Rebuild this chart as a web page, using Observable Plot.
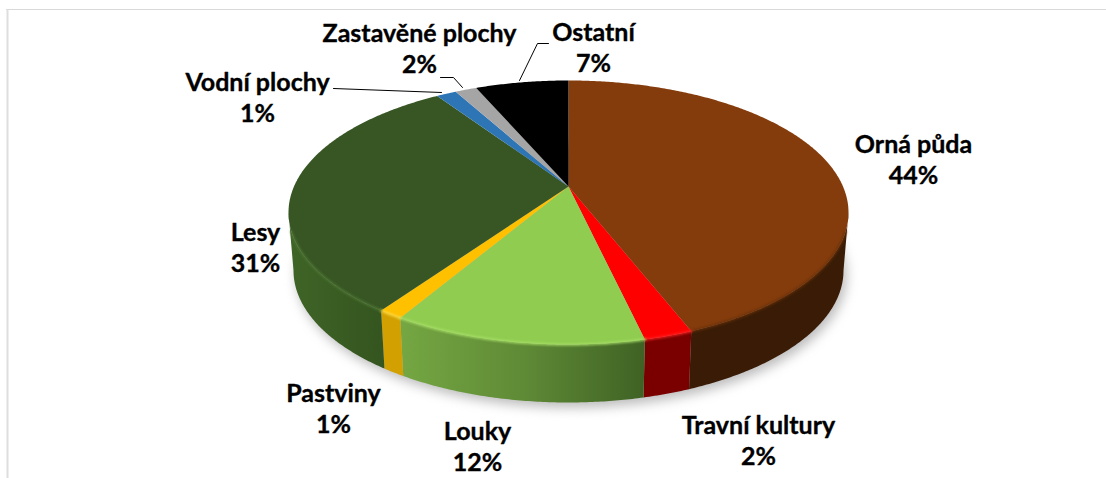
<!DOCTYPE html>
<html><head><meta charset="utf-8">
<script src="https://cdn.jsdelivr.net/npm/d3@7"></script>
<script src="https://cdn.jsdelivr.net/npm/@observablehq/plot@0.6"></script>
<style>html,body{margin:0;padding:0;background:#fff}svg{display:block}</style>
</head><body><div id="chart"></div>
<script>
const categories = ["Orná půda","Travní kultury","Louky","Pastviny","Lesy","Vodní plochy","Zastavěné plochy","Ostatní"];
const shares = [44.05,2.34,12.11,1.2,30.9,1.4,1.5,6.5];
const topColors = ["#843c0c","#ff0000","#8fcc50","#ffc000","#375623","#2e75b6","#a5a5a5","#000000"];
const wallColors = ["#3a1c06","#7a0000","url(#wallGreen)","#d2a000","url(#wallForest)","#1f4e79","#6f6f6f","#000000"];
const rimGlow = ["#6a3008","#ff2020","#a8e066","#ffd840","#4c7434","#2e75b6","#a5a5a5","#000000"];
const labelX = [913,758,477,333,255,257,419,593];
const labelY = [158,439,445,407,246,96,47,46];
const leaders = [
  {name:"Vodní plochy",px:[333,441],py:[88,92]},
  {name:"Zastavěné plochy",px:[440,453,462],py:[77,77,87]},
  {name:"Ostatní",px:[548,537,519],py:[43,43,80]}
];
const cx=568, topCy=212, baseCy=270, rxTop=280, rxBase=275, ry=132, apexY=186;
const k=(apexY-topCy)/ry;
const thetaRight=Math.acos(k)*180/Math.PI, thetaLeft=360-thetaRight;
function disk(deg){
  const a=deg*Math.PI/180, u0=Math.sin(a), v0=-Math.cos(a), d=1+k*v0;
  return [u0*Math.sqrt(1-k*k)/d,(v0+k)/d];
}
const topPt=deg=>{const [u,v]=disk(deg);return {x:cx+rxTop*u,y:topCy+ry*v};};
const basePt=deg=>{const [u,v]=disk(deg);return {x:cx+rxBase*u,y:baseCy+ry*v};};
function arc(a,b,f){const n=Math.max(2,Math.ceil((b-a)*2));return d3.range(n+1).map(i=>f(a+(b-a)*i/n));}
const cum=d3.cumsum(shares);
const total=d3.sum(shares);
const slices=categories.map((name,i)=>({name,i,a:(i?cum[i-1]:0)/total*360,b:cum[i]/total*360}));
function grad(id,x1,x2,stops){
  return `<linearGradient id="${id}" gradientUnits="userSpaceOnUse" x1="${x1}" x2="${x2}" y1="0" y2="0">`+stops.map(([o,c])=>`<stop offset="${o}" stop-color="${c}"/>`).join("")+`</linearGradient>`;
}
const defsMark=()=>{
  const g=document.createElementNS("http://www.w3.org/2000/svg","defs");
  g.innerHTML=grad("wallGreen",403,644,[[0,"#74a642"],[0.5,"#5f8a36"],[1,"#3f6224"]])
   +grad("wallForest",290,383,[[0,"#3f6427"],[1,"#34551f"]]);
  return g;
};
const shadowRing=arc(0,360,basePt).map(p=>({x:p.x+3,y:p.y+5}));
const marks=[
  defsMark,
  Plot.ruleY([9],{x1:6,x2:1106,stroke:"#d9d9d9",strokeWidth:1}),
  Plot.ruleX([7],{y1:9,y2:478,stroke:"#dedede",strokeWidth:2}),
  Plot.line(shadowRing,{x:"x",y:"y",fill:"#777",stroke:"none",fillOpacity:0.5,imageFilter:"blur(6px)"})
];
slices.forEach(s=>{
  const lo=Math.max(s.a,thetaRight), hi=Math.min(s.b,thetaLeft);
  if(hi<=lo) return;
  const wall=[...arc(lo,hi,topPt),...arc(lo,hi,basePt).reverse()];
  marks.push(Plot.line(wall,{x:"x",y:"y",fill:wallColors[s.i],stroke:"none"}));
});
slices.forEach(s=>{
  const top=[{x:cx,y:apexY},...arc(s.a,s.b,topPt)];
  marks.push(Plot.line(top,{x:"x",y:"y",fill:topColors[s.i],stroke:"none"}));
});
slices.forEach(s=>{
  const lo=Math.max(s.a,thetaRight+8), hi=Math.min(s.b,thetaLeft-8);
  if(hi>lo) marks.push(Plot.line(arc(lo,hi,topPt),{x:"x",y:"y",stroke:rimGlow[s.i],strokeWidth:2.5,strokeOpacity:0.85,imageFilter:"blur(1.2px)"}));
});
leaders.forEach(l=>{
  const pts=l.px.map((x,j)=>({x,y:l.py[j]}));
  marks.push(Plot.line(pts,{x:"x",y:"y",stroke:"#000",strokeWidth:1}));
});
const labelRows=categories.map((name,i)=>({label:name+"\n"+Math.round(shares[i])+"%",x:labelX[i],y:labelY[i]}));
marks.push(Plot.text(labelRows,{x:"x",y:"y",text:"label",fill:"#000",stroke:"#000",strokeWidth:0.35,fontFamily:"Lato",fontWeight:700,fontSize:25,lineHeight:1.24,textAnchor:"middle"}));
const chart=Plot.plot({width:1106,height:478,margin:0,
  x:{domain:[0,1106],range:[0,1106],axis:null},
  y:{domain:[0,478],range:[0,478],axis:null},
  style:{background:"#fff"},marks});
document.getElementById("chart").append(chart);
</script></body></html>
